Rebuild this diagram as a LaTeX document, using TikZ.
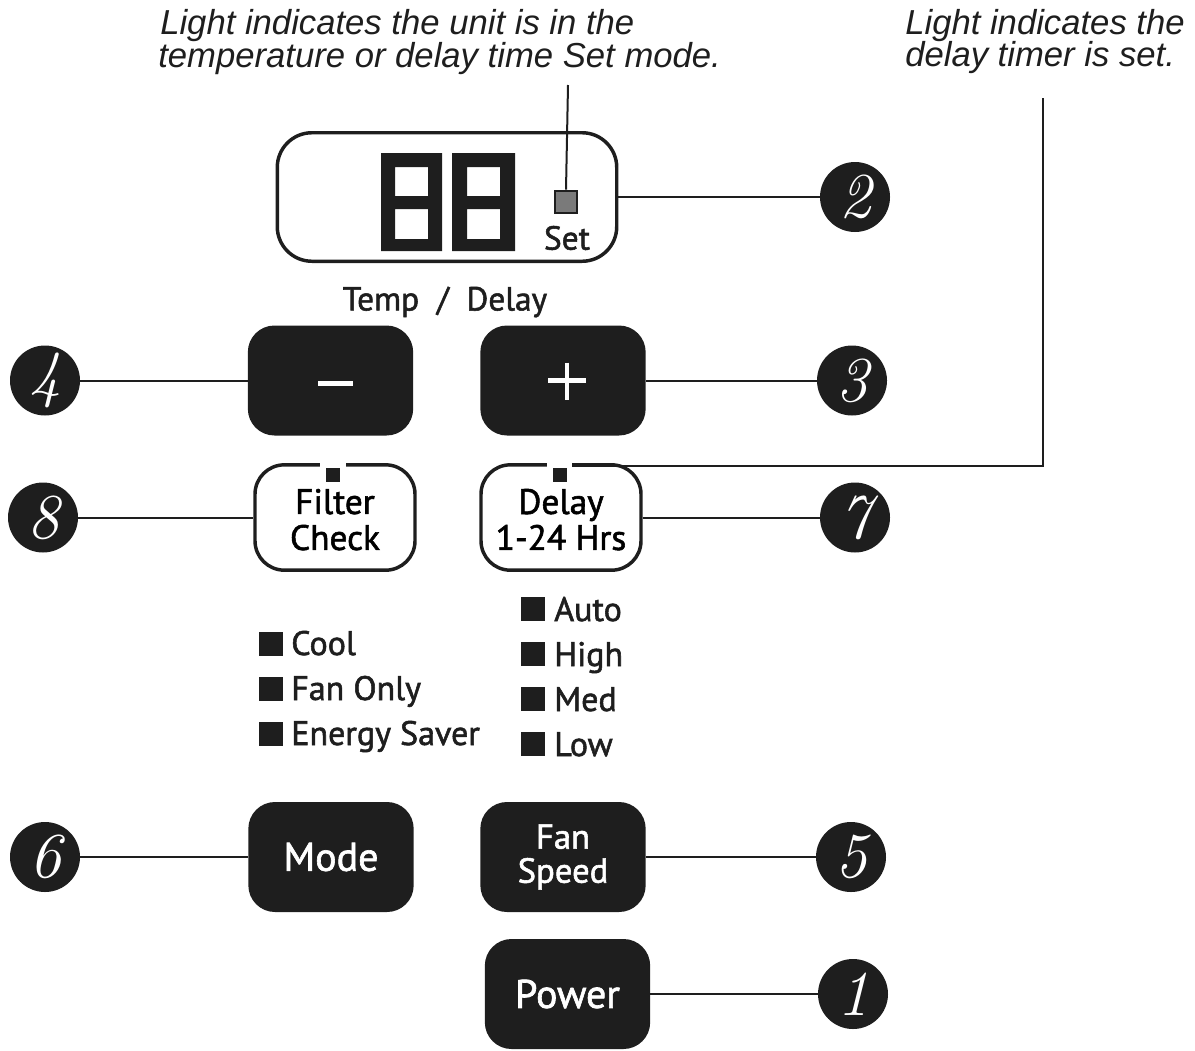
\documentclass[tikz,border=0pt]{standalone}
\usepackage{fontspec}
\newfontfamily\capfont{Liberation Sans}
\newfontfamily\gefont[FakeBold=1.6]{PT Sans}
\definecolor{ink}{HTML}{1E1E1E}
\definecolor{ledgray}{HTML}{7A7A7A}
\begin{document}
\begin{tikzpicture}[x=0.75pt,y=-0.75pt,
  blkbtn/.style={fill=ink, rounded corners=20pt, minimum width=124pt, minimum height=82.5pt,
     text=white, align=center, inner sep=0pt},
  outbtn/.style={draw=ink, line width=2.6pt, rounded corners=22pt, minimum width=120pt,
     minimum height=79pt, align=center, inner sep=0pt,
     font=\gefont\fontsize{26.5}{27}\selectfont},
  num/.style={circle, fill=ink, minimum size=52.5pt, inner sep=0pt, text=white,
     font=\fontsize{48}{48}\selectfont\itshape},
  conn/.style={draw=ink, line width=1.5pt},
  led/.style={fill=ink, minimum size=18pt, inner sep=0pt},
  ledsmall/.style={fill=ink, minimum size=10.5pt, inner sep=0pt},
  lbl/.style={font=\gefont\fontsize{25.5}{27}\selectfont, anchor=base west, inner sep=0pt, text=ink},
  captxt/.style={font=\capfont\itshape\fontsize{26}{25}\selectfont, anchor=base west, inner sep=0pt, text=ink}
]
\useasboundingbox (0,0) rectangle (1195,1050);

% captions
\node[captxt] (cap1a) at (160,34) {Light indicates the unit is in the};
\node[captxt] (cap1b) at (158,67) {temperature or delay time Set mode.};
\node[captxt] (cap2a) at (905,34) {Light indicates the};
\node[captxt] (cap2b) at (905,66) {delay timer is set.};

% display
\node[draw=ink, line width=2.6pt, rounded corners=26pt, minimum width=254.6pt,
      minimum height=96.4pt] (disp) at (447,197) {};
\fill[ink, even odd rule] (381,153) rectangle (442,251) (395,167) rectangle (428,196) (395,209) rectangle (428,239);
\fill[ink, even odd rule] (452,153) rectangle (515,251) (467,167) rectangle (500,196) (467,209) rectangle (500,239);
\node[fill=ledgray, draw=ink, line width=1.5pt, minimum size=17pt, inner sep=0pt] (setsq) at (566,202) {};
\node[font=\gefont\fontsize{25}{25}\selectfont, text=ink, inner sep=0pt] (setlbl) at (567,238) {Set};

\coordinate (c1top) at (568,85);
\draw[conn] (c1top) -- (setsq.north);

% Temp / Delay
\node[font=\gefont\fontsize{25}{25}\selectfont, text=ink, inner sep=0pt] (tdlbl) at (445,302) {Temp\ \ /\ \ Delay};

% +/- buttons
\node[blkbtn] (minus) at (330.5,380.5) {};
\node[blkbtn] (plus) at (563,380.5) {};
\draw[white, line width=3.6pt] (minus.center) ++(-12.5,3) -- ++(35,0);
\draw[white, line width=3.4pt] (plus.center) ++(-15,0) -- ++(38,0);
\draw[white, line width=3.4pt] (plus.center) ++(4,-18) -- ++(0,37);

% Filter / Delay
\node[outbtn] (filter) at (335,517.5) {\rule{0pt}{22pt}Filter\\Check};
\node[outbtn] (delay) at (561,517.5) {\rule{0pt}{22pt}Delay\\1-24 Hrs};
\fill[white] (320,458) rectangle (346,469);
\fill[white] (547,458) rectangle (572,469);
\node[ledsmall] (fled) at (333,475) {};
\node[ledsmall] (dled) at (560,475) {};

\coordinate (c2top) at (1043,98);
\coordinate (djoin) at (572,465.5);
\draw[conn] (c2top) |- (djoin);

% mode indicators
\node[led] (lcool) at (270.5,643.5) {};
\node[led] (lfan) at (270.5,688.5) {};
\node[led] (lsave) at (270.5,733.5) {};
\node[lbl] (tcool) at (291,655) {Cool};
\node[lbl] (tfan) at (291,700) {Fan Only};
\node[lbl] (tsave) at (291,745) {Energy Saver};

% fan indicators
\node[led] (lauto) at (533,609) {};
\node[led] (lhigh) at (533,654) {};
\node[led] (lmed) at (533,699) {};
\node[led] (llow) at (533,744) {};
\node[lbl] (tauto) at (554,621) {Auto};
\node[lbl] (thigh) at (554,666) {High};
\node[lbl] (tmed) at (554,711) {Med};
\node[lbl] (tlow) at (554,756) {Low};

% bottom buttons
\node[blkbtn, font=\gefont\fontsize{30}{30}\selectfont] (mode) at (331,857) {Mode};
\node[blkbtn, font=\gefont\fontsize{26}{25.5}\selectfont] (fan) at (563,857) {Fan\\Speed};
\node[blkbtn, font=\gefont\fontsize{30}{30}\selectfont] (power) at (567.5,994) {Power};

% numbered circles
\node[num] (n2) at (855,197) {2};
\node[num] (n3) at (852,380.5) {3};
\node[num] (n7) at (855,517.5) {7};
\node[num] (n5) at (851,857) {5};
\node[num] (n1) at (853,994) {1};
\node[num] (n4) at (45,380.5) {4};
\node[num] (n8) at (43,517.5) {8};
\node[num] (n6) at (45,857) {6};

\draw[conn] (disp.east) -- (n2.west);
\draw[conn] (plus.east) -- (n3.west);
\draw[conn] (delay.east) -- (n7.west);
\draw[conn] (fan.east) -- (n5.west);
\draw[conn] (power.east) -- (n1.west);
\draw[conn] (n4.east) -- (minus.west);
\draw[conn] (n8.east) -- (filter.west);
\draw[conn] (n6.east) -- (mode.west);
\end{tikzpicture}
\end{document}
